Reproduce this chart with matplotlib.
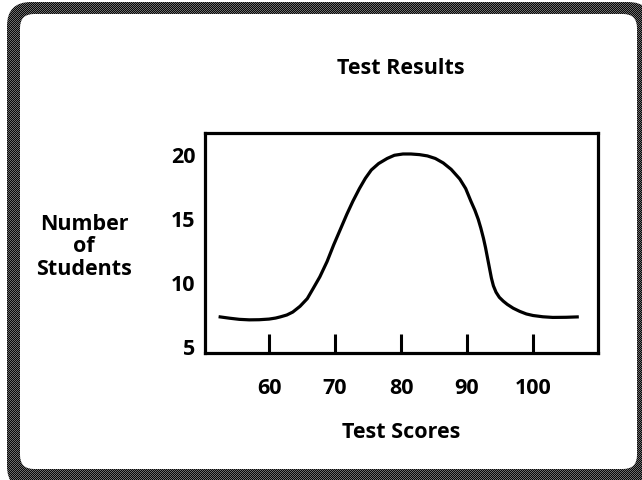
import numpy as np
import matplotlib
matplotlib.use("Agg")
import matplotlib.pyplot as plt
from matplotlib.patches import FancyBboxPatch

# ---- data ----
score = [52.6, 54.0, 55.5, 57.0, 58.5, 60.0, 61.0, 61.7, 62.7, 63.6, 64.7, 65.8,
         66.7, 67.7, 68.8, 69.8, 70.8, 71.8, 72.7, 73.7, 74.6, 75.5, 76.6, 77.9,
         79.0, 80.3, 81.5, 82.8, 84.0, 85.2, 86.4, 87.6, 88.9, 89.8, 90.6, 91.2,
         91.7, 92.1, 92.5, 92.8, 93.1, 93.4, 93.7, 94.0, 94.4, 94.9, 95.5, 96.1,
         97.0, 98.0, 99.0, 100.0, 101.5, 103.0, 105.0, 106.7]
students = [7.27, 7.17, 7.08, 7.04, 7.05, 7.10, 7.18, 7.27, 7.42, 7.65, 8.10, 8.70,
            9.50, 10.4, 11.6, 12.9, 14.1, 15.3, 16.3, 17.3, 18.1, 18.75, 19.25, 19.65,
            19.9, 20.0, 20.0, 19.95, 19.85, 19.65, 19.3, 18.8, 18.05, 17.3, 16.3, 15.6,
            14.9, 14.2, 13.4, 12.7, 11.9, 11.1, 10.3, 9.7, 9.2, 8.8, 8.5, 8.25,
            7.95, 7.70, 7.50, 7.38, 7.28, 7.23, 7.24, 7.27]
x_ticks = [60, 70, 80, 90, 100]
y_ticks = [5, 10, 15, 20]
title = "Test Results"
x_label = "Test Scores"
y_label = "Number\nof\nStudents"

W, H = 642, 481
plt.rcParams['font.family'] = ['Open Sans', 'DejaVu Sans']
fig = plt.figure(figsize=(W / 100, H / 100), dpi=100)

# ---- background frame (pixel coordinates) ----
bg = fig.add_axes([0, 0, 1, 1], zorder=0)
bg.set_xlim(0, W)
bg.set_ylim(H, 0)
bg.axis('off')
yy, xx = np.mgrid[0:H, 0:W]
checker = ((xx + yy) % 2).astype(float)
img = np.where(checker[..., None] > 0, np.array([0.42, 0.42, 0.42]), np.array([0.03, 0.03, 0.03]))
outer = FancyBboxPatch((7 + 24, 3 + 24), (W + 10) - 7 - 48, (H + 10) - 3 - 48,
                       boxstyle="round,pad=24", transform=bg.transData,
                       facecolor='none', edgecolor='none')
bg.add_patch(outer)
im = bg.imshow(img, extent=(0, W, H, 0), interpolation='nearest', aspect='auto')
im.set_clip_path(outer)
inner = FancyBboxPatch((20 + 14, 15 + 14), 637 - 20 - 28, 470 - 15 - 28,
                       boxstyle="round,pad=14", transform=bg.transData,
                       facecolor='white', edgecolor='none', zorder=3)
bg.add_patch(inner)

# ---- main chart ----
ax = fig.add_axes([205 / W, 1 - 354 / H, (598 - 205) / W, (354 - 134) / H], zorder=2)
ax.patch.set_alpha(0)
ax.plot(score, students, color='black', lw=2.3, solid_joinstyle='round')
ax.set_xlim(50.3, 109.85)
ax.set_ylim(4.45, 21.64)
ax.set_xticks(x_ticks)
ax.set_yticks(y_ticks)
for s in ax.spines.values():
    s.set_linewidth(2.3)
ax.tick_params(axis='x', direction='in', length=13.5, width=2.2, pad=17, labelsize=15.5)
ax.tick_params(axis='y', length=0, pad=7, labelsize=15.5)
for lab in ax.get_xticklabels() + ax.get_yticklabels():
    lab.set_fontweight('bold')

fig.text(401 / W, 1 - 68 / H, title, ha='center', va='center', fontsize=15.5, fontweight='bold')
fig.text(401 / W, 1 - 432 / H, x_label, ha='center', va='center', fontsize=15.5, fontweight='bold')
fig.text(84 / W, 1 - 247 / H, y_label, ha='center', va='center', fontsize=15.5,
         fontweight='bold', linespacing=1.12)

fig.savefig('out.png', dpi=100)
